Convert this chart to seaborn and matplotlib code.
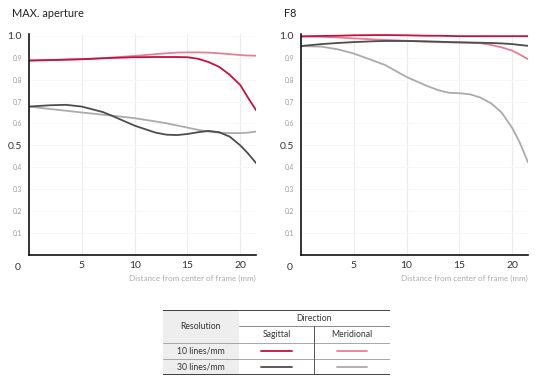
import seaborn as sns
import matplotlib.pyplot as plt
import pandas as pd

# MAX. aperture
max_x = [0, 2, 3.5, 5, 7, 8, 10, 12, 13, 14, 15, 16, 17, 18, 19, 20, 20.7, 21.5]
max_s10 = [0.887, 0.889, 0.891, 0.893, 0.897, 0.899, 0.902, 0.903, 0.903, 0.903, 0.902, 0.895, 0.880, 0.858, 0.822, 0.775, 0.720, 0.660]
max_m10 = [0.887, 0.889, 0.891, 0.893, 0.898, 0.901, 0.908, 0.916, 0.920, 0.923, 0.924, 0.924, 0.923, 0.920, 0.916, 0.912, 0.910, 0.909]
max_s30 = [0.677, 0.683, 0.685, 0.677, 0.652, 0.632, 0.590, 0.558, 0.549, 0.547, 0.552, 0.560, 0.566, 0.560, 0.540, 0.500, 0.465, 0.419]
max_m30 = [0.677, 0.666, 0.658, 0.650, 0.640, 0.635, 0.624, 0.609, 0.601, 0.591, 0.581, 0.571, 0.563, 0.558, 0.556, 0.556, 0.558, 0.563]

# F8
f8_x = [0, 2, 3.5, 5, 7, 8, 10, 12, 13, 14, 15, 16, 17, 18, 19, 20, 20.7, 21.5]
f8_s10 = [0.997, 0.999, 1.0, 1.002, 1.003, 1.003, 1.002, 1.0, 1.0, 0.999, 0.998, 0.998, 0.998, 0.998, 0.998, 0.998, 0.998, 0.998]
f8_m10 = [0.997, 0.995, 0.992, 0.988, 0.983, 0.981, 0.977, 0.973, 0.971, 0.970, 0.969, 0.968, 0.966, 0.958, 0.947, 0.932, 0.915, 0.893]
f8_s30 = [0.953, 0.962, 0.967, 0.971, 0.975, 0.976, 0.976, 0.974, 0.973, 0.971, 0.970, 0.969, 0.968, 0.967, 0.965, 0.962, 0.958, 0.954]
f8_m30 = [0.953, 0.950, 0.938, 0.919, 0.884, 0.866, 0.812, 0.770, 0.752, 0.740, 0.738, 0.733, 0.718, 0.692, 0.650, 0.580, 0.515, 0.423]

series = ["10 Sagittal", "10 Meridional", "30 Sagittal", "30 Meridional"]
colors = {"10 Sagittal": "#c4123f", "10 Meridional": "#e47f98",
          "30 Sagittal": "#4d4d4d", "30 Meridional": "#ababab"}


def long_df(x, vals):
    rows = []
    for name, v in zip(series, vals):
        for xi, yi in zip(x, v):
            rows.append((name, xi, yi))
    return pd.DataFrame(rows, columns=["series", "x", "y"])


sns.set_style("white")
plt.rcParams['font.family'] = ['Lato', 'DejaVu Sans']

fig = plt.figure(figsize=(5.5, 3.9), dpi=100)
ax1 = fig.add_axes([0.0527, 0.346, 0.413, 0.568])
ax2 = fig.add_axes([0.547, 0.346, 0.413, 0.568])

panels = [(ax1, "MAX. aperture", long_df(max_x, [max_s10, max_m10, max_s30, max_m30])),
          (ax2, "F8", long_df(f8_x, [f8_s10, f8_m10, f8_s30, f8_m30]))]

for ax, title, df in panels:
    # draw meridional first so sagittal sits on top
    order = ["30 Meridional", "10 Meridional", "30 Sagittal", "10 Sagittal"]
    for name in order:
        sns.lineplot(data=df[df.series == name], x="x", y="y", color=colors[name],
                     lw=1.3, ax=ax, legend=False)
    ax.set_xlim(0, 21.5)
    ax.set_ylim(0, 1.01)
    ax.set_xticks([5, 10, 15, 20])
    ax.set_yticks([i / 10 for i in range(1, 11)])
    ax.set_yticklabels(["0.1", "0.2", "0.3", "0.4", "0.5", "0.6", "0.7", "0.8", "0.9", "1.0"])
    for lab in ax.get_yticklabels():
        if lab.get_text() in ("0.5", "1.0"):
            lab.set_fontsize(7.5)
            lab.set_color("#333333")
        else:
            lab.set_fontsize(4.8)
            lab.set_color("#999999")
    ax.tick_params(axis="x", labelsize=7.5, labelcolor="#333333", length=0, pad=4)
    ax.tick_params(axis="y", length=0, pad=5)
    ax.grid(True, axis="x", color="#ececec", lw=0.8)
    ax.grid(True, axis="y", color="#f6f6f6", lw=0.6)
    ax.set_axisbelow(True)
    for s in ["top", "right"]:
        ax.spines[s].set_visible(False)
    for s in ["left", "bottom"]:
        ax.spines[s].set_color("#111111")
        ax.spines[s].set_linewidth(1.2)
    ax.set_xlabel("")
    ax.set_ylabel("")
    ax.text(-0.035, -0.035, "0", transform=ax.transAxes, ha="right", va="top",
            fontsize=7.5, color="#333333")
    ax.text(1.0, -0.09, "Distance from center of frame (mm)", transform=ax.transAxes,
            ha="right", va="top", fontsize=5.8, color="#aaaaaa")
    ax.text(-0.075, 1.065, title, transform=ax.transAxes, ha="left", va="bottom",
            fontsize=7.9, color="#222222")

# legend table
tab = fig.add_axes([163 / 550, 1 - 375 / 390, 227 / 550, 65 / 390])
tab.set_xlim(0, 3)
tab.set_ylim(0, 4)
tab.axis("off")
tab.axvspan(0, 1, color="#eeeeee", lw=0)
tab.axhline(4, color="#222222", lw=1.2)
tab.axhline(0, color="#222222", lw=1.2)
tab.plot([1, 3], [3, 3], color="#777777", lw=0.6)
tab.plot([0, 3], [2, 2], color="#999999", lw=0.6)
tab.plot([0, 3], [1, 1], color="#999999", lw=0.6)
tab.plot([2, 2], [0, 3], color="#555555", lw=0.7)
tfs = 6.2
tab.text(0.5, 3, "Resolution", ha="center", va="center", fontsize=tfs, color="#333333")
tab.text(2, 3.5, "Direction", ha="center", va="center", fontsize=tfs, color="#333333")
tab.text(1.5, 2.5, "Sagittal", ha="center", va="center", fontsize=tfs, color="#333333")
tab.text(2.5, 2.5, "Meridional", ha="center", va="center", fontsize=tfs, color="#333333")
tab.text(0.5, 1.5, "10 lines/mm", ha="center", va="center", fontsize=tfs, color="#333333")
tab.text(0.5, 0.5, "30 lines/mm", ha="center", va="center", fontsize=tfs, color="#333333")
for row, res in [(1.5, "10"), (0.5, "30")]:
    tab.plot([1.3, 1.7], [row, row], color=colors[res + " Sagittal"], lw=1.3)
    tab.plot([2.3, 2.7], [row, row], color=colors[res + " Meridional"], lw=1.3)

fig.savefig("out.png", dpi=100)
plt.close()
